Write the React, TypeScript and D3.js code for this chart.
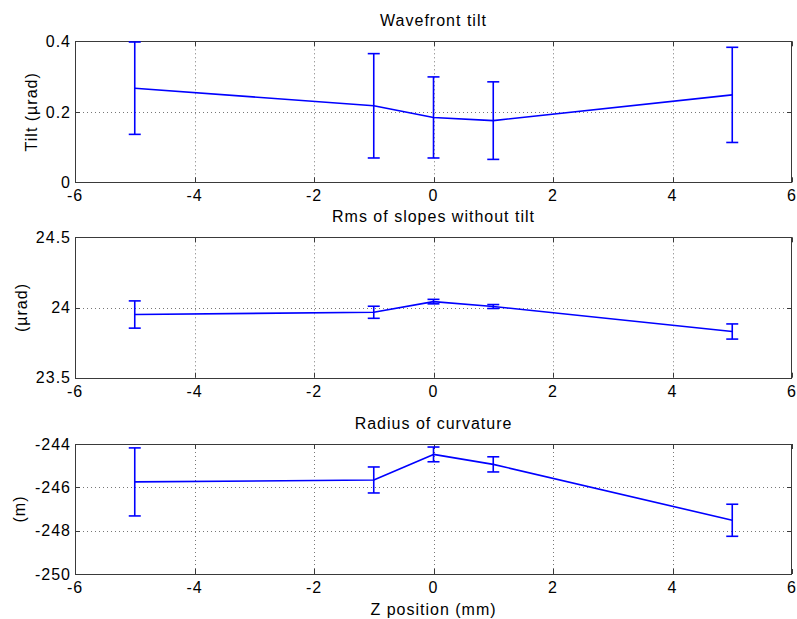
import React from "react";
import * as d3 from "d3";

const zPos = [-5, -1, 0, 1, 5];
const tilt = [0.267, 0.217, 0.184, 0.175, 0.248];
const tiltErr = [0.131, 0.148, 0.115, 0.11, 0.135];
const rms = [23.95, 23.966, 24.042, 24.007, 23.829];
const rmsErr = [0.097, 0.043, 0.016, 0.014, 0.054];
const radius = [-245.75, -245.66, -244.48, -244.94, -247.52];
const radiusErr = [1.57, 0.6, 0.34, 0.35, 0.74];

const xTicks = [-6, -4, -2, 0, 2, 4, 6];
const tiltTicks = [0, 0.2, 0.4];
const rmsTicks = [23.5, 24, 24.5];
const radiusTicks = [-250, -248, -246, -244];

const titles = ["Wavefront tilt", "Rms of slopes without tilt", "Radius of curvature"];
const yLabels = ["Tilt (\u00b5rad)", "(\u00b5rad)", "(m)"];
const xLabel = "Z position (mm)";

const W = 797;
const H = 619;
const FONT = "'Liberation Sans', Arial, Helvetica, sans-serif";

type PanelProps = {
  top: number;
  bottom: number;
  ys: number[];
  errs: number[];
  yDomain: [number, number];
  yTicks: number[];
  title: string;
  yLabel: string;
  yLabelX: number;
  xLabel?: string;
};

const left = 75;
const right = 792;

function Panel({ top, bottom, ys, errs, yDomain, yTicks, title, yLabel, yLabelX, xLabel }: PanelProps) {
  const x = d3.scaleLinear().domain([-6, 6]).range([left, right]);
  const y = d3.scaleLinear().domain(yDomain).range([bottom, top]);
  const pts = zPos.map((z, i) => [x(z), y(ys[i])] as [number, number]);
  const line = d3.line()(pts) || "";
  const tickLen = 5;
  const axisColor = "#3a3a3a";
  const gridColor = "#777";
  const fs = 16;
  const ls = 1;
  return (
    <g>
      {/* grid */}
      {xTicks.slice(1, -1).map((t) => (
        <line key={"gx" + t} x1={Math.round(x(t)) + 0.5} x2={Math.round(x(t)) + 0.5} y1={top} y2={bottom}
          stroke={gridColor} strokeWidth={1} strokeDasharray="1 3" />
      ))}
      {yTicks.slice(1, -1).map((t) => (
        <line key={"gy" + t} y1={Math.round(y(t)) + 0.5} y2={Math.round(y(t)) + 0.5} x1={left} x2={right}
          stroke={gridColor} strokeWidth={1} strokeDasharray="1 3" />
      ))}
      {/* ticks */}
      {xTicks.map((t) => (
        <g key={"tx" + t}>
          <line x1={Math.round(x(t)) + 0.5} x2={Math.round(x(t)) + 0.5} y1={bottom} y2={bottom - tickLen} stroke={axisColor} />
          <line x1={Math.round(x(t)) + 0.5} x2={Math.round(x(t)) + 0.5} y1={top} y2={top + tickLen} stroke={axisColor} />
          <text x={x(t)} y={bottom + 19} textAnchor="middle" fontSize={fs} letterSpacing={ls} fontFamily={FONT} fill="#000">
            {String(t).replace("-", "-")}
          </text>
        </g>
      ))}
      {yTicks.map((t) => (
        <g key={"ty" + t}>
          <line x1={left} x2={left + tickLen} y1={Math.round(y(t)) + 0.5} y2={Math.round(y(t)) + 0.5} stroke={axisColor} />
          <line x1={right} x2={right - tickLen} y1={Math.round(y(t)) + 0.5} y2={Math.round(y(t)) + 0.5} stroke={axisColor} />
          <text x={left - 4} y={y(t)} dy="0.36em" textAnchor="end" fontSize={fs} letterSpacing={ls} fontFamily={FONT} fill="#000">
            {String(t)}
          </text>
        </g>
      ))}
      {/* box */}
      <rect x={left + 0.5} y={Math.round(top) + 0.5} width={right - left - 1} height={Math.round(bottom) - Math.round(top)}
        fill="none" stroke={axisColor} strokeWidth={1} />
      {/* data */}
      <path d={line} fill="none" stroke="#0000ff" strokeWidth={1.6} strokeLinejoin="round" />
      {zPos.map((z, i) => {
        const cx = x(z);
        const y1 = y(ys[i] + errs[i]);
        const y2 = y(ys[i] - errs[i]);
        return (
          <g key={"e" + i} stroke="#0000ff" strokeWidth={1.6}>
            <line x1={cx} x2={cx} y1={y1} y2={y2} />
            <line x1={cx - 6} x2={cx + 6} y1={y1} y2={y1} />
            <line x1={cx - 6} x2={cx + 6} y1={y2} y2={y2} />
          </g>
        );
      })}
      <text x={(left + right) / 2} y={top - 15} textAnchor="middle" fontSize={fs} letterSpacing={ls} fontFamily={FONT} fill="#000">
        {title}
      </text>
      <text transform={`translate(${yLabelX},${(top + bottom) / 2}) rotate(-90)`} textAnchor="middle" fontSize={fs}
        letterSpacing={ls} fontFamily={FONT} fill="#000">
        {yLabel}
      </text>
      {xLabel && (
        <text x={(left + right) / 2} y={bottom + 41} textAnchor="middle" fontSize={fs} letterSpacing={ls} fontFamily={FONT} fill="#000">
          {xLabel}
        </text>
      )}
    </g>
  );
}

export default function App() {
  return (
    <svg width={W} height={H} style={{ position: "absolute", left: 0, top: 0, background: "#fff" }}>
      <rect width={W} height={H} fill="#fff" />
      <Panel top={41.3} bottom={182.3} ys={tilt} errs={tiltErr} yDomain={[0, 0.4]} yTicks={tiltTicks}
        title={titles[0]} yLabel={yLabels[0]} yLabelX={37} />
      <Panel top={237.3} bottom={377.7} ys={rms} errs={rmsErr} yDomain={[23.5, 24.5]} yTicks={rmsTicks}
        title={titles[1]} yLabel={yLabels[1]} yLabelX={27} />
      <Panel top={444} bottom={574} ys={radius} errs={radiusErr} yDomain={[-250, -244]} yTicks={radiusTicks}
        title={titles[2]} yLabel={yLabels[2]} yLabelX={25} xLabel={xLabel} />
    </svg>
  );
}
